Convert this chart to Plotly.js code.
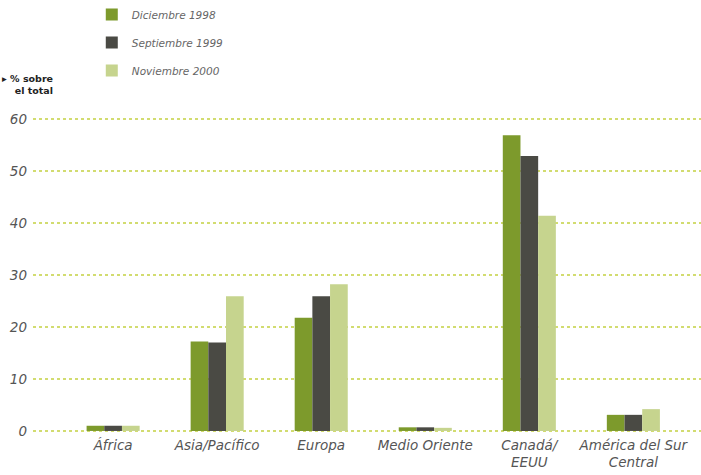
<!DOCTYPE html>
<html>
<head>
<meta charset="utf-8">
<script src="https://cdn.plot.ly/plotly-3.0.1.min.js"></script>
<style>html,body{margin:0;padding:0;background:#fff}#chart{width:701px;height:475px}</style>
</head>
<body>
<div id="chart"></div>
<script>
const categories = ["África", "Asia/Pacífico", "Europa", "Medio Oriente", "Canadá/<br>EEUU", "América del Sur<br>Central"];
const seriesNames = ["Diciembre 1998", "Septiembre 1999", "Noviembre 2000"];
const dic1998 = [1.0, 17.2, 21.8, 0.7, 56.9, 3.1];
const sep1999 = [1.0, 17.0, 25.9, 0.7, 52.9, 3.1];
const nov2000 = [1.0, 25.9, 28.2, 0.6, 41.4, 4.2];
const yTicks = [0, 10, 20, 30, 40, 50, 60];

const colors = ["#7d9a2c", "#4a4a44", "#c6d48e"];
const values = [dic1998, sep1999, nov2000];

const data = values.map((v, i) => ({
  type: "bar",
  name: seriesNames[i],
  x: categories,
  y: v,
  legendgroup: "g" + i,
  marker: {color: colors[i], line: {width: 0}}
}));

const ff = "DejaVu Sans, Verdana, sans-serif";

const layout = {
  width: 701, height: 475,
  margin: {l: 33, r: 0, t: 117, b: 43, pad: 0},
  paper_bgcolor: "#fff", plot_bgcolor: "#fff",
  barmode: "group",
  bargap: 0.49,
  bargroupgap: 0,
  showlegend: true,
  legend: {
    x: 0.088, xanchor: "left", y: 1.375, yanchor: "top",
    font: {family: ff, size: 10.5, color: "#666", style: "italic"},
    tracegroupgap: 9, itemwidth: 30, bgcolor: "rgba(0,0,0,0)"
  },
  xaxis: {
    type: "category",
    range: [-0.77, 5.65],
    showgrid: false, zeroline: false, showline: false,
    ticks: "",
    tickfont: {family: ff, size: 13.5, color: "#555", style: "italic"},
    ticklabelstandoff: 3,
    fixedrange: true
  },
  yaxis: {
    range: [-0.2, 60.2],
    tickvals: yTicks,
    ticktext: yTicks.map(String),
    showgrid: true, gridcolor: "#d2dc70", griddash: "dot", gridwidth: 1.3,
    zeroline: false, showline: false, ticks: "",
    tickfont: {family: ff, size: 13.5, color: "#555", style: "italic"},
    ticklabelstandoff: 5,
    fixedrange: true
  },
  annotations: [{
    xref: "paper", yref: "paper",
    x: 0.033, y: 1.065, xanchor: "right", yanchor: "bottom",
    align: "right",
    text: "<b>▸ % sobre<br>el total</b>",
    showarrow: false,
    font: {family: ff, size: 9.5, color: "#222"}
  }]
};

Plotly.newPlot("chart", data, layout, {displayModeBar: false, staticPlot: true});
</script>
</body>
</html>
